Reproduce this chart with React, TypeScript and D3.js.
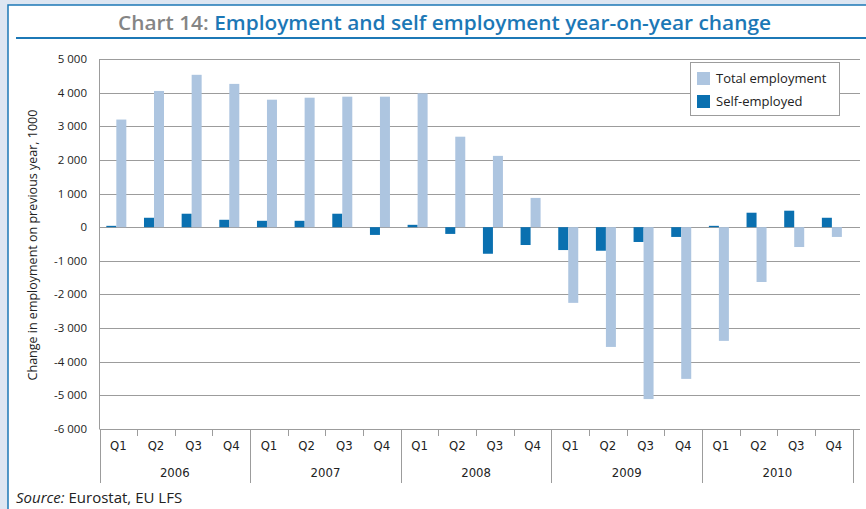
import React from 'react';
import * as d3 from 'd3';

const quarters = ['Q1', 'Q2', 'Q3', 'Q4'];
const years = ['2006', '2007', '2008', '2009', '2010'];
const totalEmployment = [3200, 4050, 4530, 4260, 3790, 3850, 3880, 3880, 3980, 2690, 2120, 870, -2250, -3560, -5110, -4510, -3380, -1630, -590, -290];
const selfEmployed = [40, 280, 400, 220, 190, 190, 400, -230, 70, -200, -790, -530, -680, -700, -440, -290, 40, 430, 490, 280];
const yTicks = [-6000, -5000, -4000, -3000, -2000, -1000, 0, 1000, 2000, 3000, 4000, 5000];
const seriesNames = ['Total employment', 'Self-employed'];

const W = 866;
const H = 509;
const LIGHT = '#adc5e0';
const DARK = '#0a70b0';
const BLUE = '#1c78b6';
const GRID = '#9c9c9c';
const FONT = '"Open Sans", "Noto Sans", sans-serif';
const NARROW = '"Liberation Sans Narrow", "DejaVu Sans Condensed", "Open Sans", sans-serif';

export default function App() {
  const plotLeft = 99.5;
  const plotRight = 860;
  const catRight = 852.7;
  const y = d3.scaleLinear().domain([-6000, 5000]).range([429, 59]);
  const idx = d3.range(totalEmployment.length).map(String);
  const x = d3.scaleBand<string>().domain(idx).range([plotLeft, catRight]).padding(0);
  const bw = 10;
  const off = -2;
  const fmt = (v: number) => (v < 0 ? '-' : '') + d3.format(',')(Math.abs(v)).replace(/,/g, ' ');
  const cats = idx.map((k, i) => ({ k, i, q: quarters[i % 4] }));

  return (
    <svg width={W} height={H} style={{ position: 'absolute', left: 0, top: 0 }} fontFamily={FONT}>
      <rect x={0} y={0} width={W} height={H} fill="#dde6f2" />
      <rect x={8} y={5} width={W} height={H} fill="#ffffff" stroke={BLUE} strokeWidth={1.5} />
      <line x1={16} x2={W} y1={38} y2={38} stroke={BLUE} strokeWidth={2} />
      <text x={118} y={30} fontSize={20.5} fontWeight={600} textLength={653} lengthAdjust="spacingAndGlyphs">
        <tspan fill="#858585">Chart 14: </tspan>
        <tspan fill={BLUE}>Employment and self employment year-on-year change</tspan>
      </text>

      {/* gridlines */}
      {yTicks.map((t) => (
        <line key={t} x1={plotLeft} x2={plotRight} y1={Math.round(y(t)) + 0.5} y2={Math.round(y(t)) + 0.5} stroke={GRID} strokeWidth={1.2} />
      ))}
      <line x1={plotLeft} x2={plotLeft} y1={y(5000)} y2={y(-6000)} stroke={GRID} strokeWidth={1} />
      {yTicks.map((t) => (
        <text key={'l' + t} x={87} y={y(t)} dy="0.35em" textAnchor="end" fontSize={11.5} fill="#222">
          {fmt(t)}
        </text>
      ))}
      <text transform={`translate(37,245) rotate(-90)`} textAnchor="middle" fontSize={12.5} fill="#222">
        Change in employment on previous year, 1000
      </text>

      {/* bars */}
      {cats.map(({ k, i }) => {
        const c = (x(k) as number) + x.bandwidth() / 2 + off;
        const s = selfEmployed[i];
        const t = totalEmployment[i];
        return (
          <g key={'b' + k}>
            <rect x={c - bw} width={bw} y={y(Math.max(0, s))} height={Math.abs(y(s) - y(0))} fill={DARK} />
            <rect x={c} width={bw} y={y(Math.max(0, t))} height={Math.abs(y(t) - y(0))} fill={LIGHT} />
          </g>
        );
      })}

      {/* x axis */}
      {d3.range(0, totalEmployment.length + 1).map((i) => {
        const xx = Math.round(plotLeft + i * x.bandwidth()) + 0.5;
        const isYear = i % 4 === 0;
        return <line key={'t' + i} x1={xx} x2={xx} y1={429} y2={isYear ? 483 : 436} stroke={GRID} strokeWidth={1} />;
      })}
      {cats.map(({ k, q }) => (
        <text key={'q' + k} x={(x(k) as number) + x.bandwidth() / 2} y={450} textAnchor="middle" fontSize={13} fill="#222" fontFamily={NARROW}>
          {q}
        </text>
      ))}
      {years.map((yr, j) => (
        <text key={yr} x={plotLeft + (j * 4 + 2) * x.bandwidth()} y={477} textAnchor="middle" fontSize={13} fill="#222" fontFamily={NARROW}>
          {yr}
        </text>
      ))}

      {/* legend */}
      <rect x={690.5} y={62.5} width={149} height={53} fill="#ffffff" stroke={GRID} strokeWidth={1} />
      {seriesNames.map((n, i) => (
        <g key={n}>
          <rect x={697} y={72 + i * 23} width={13} height={13} fill={i === 0 ? LIGHT : DARK} />
          <text x={716} y={83 + i * 23} fontSize={13} fill="#222">
            {n}
          </text>
        </g>
      ))}

      <text x={16} y={503} fontSize={15} fill="#222">
        <tspan fontStyle="italic">Source:</tspan>
        <tspan> Eurostat, EU LFS</tspan>
      </text>
    </svg>
  );
}
